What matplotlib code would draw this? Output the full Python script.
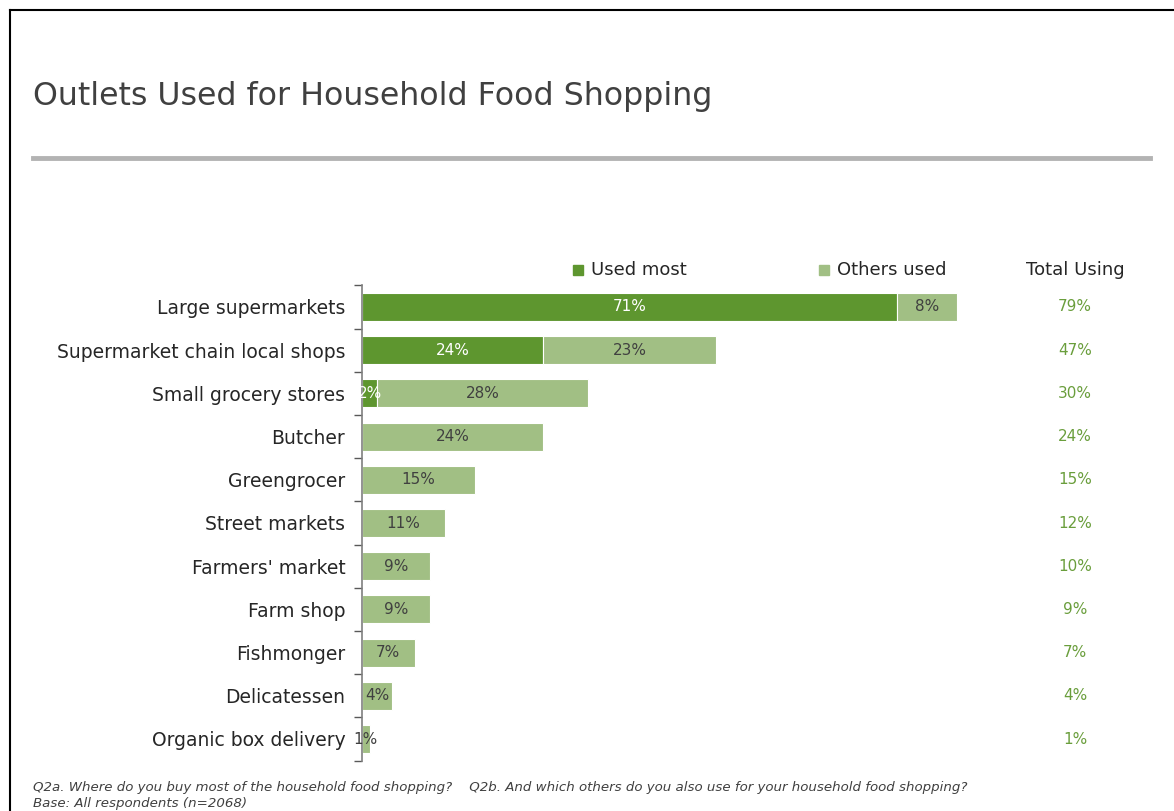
import numpy as np
import matplotlib
matplotlib.use('Agg')
import matplotlib.pyplot as plt
from matplotlib.lines import Line2D
from matplotlib.patches import Rectangle
import matplotlib.transforms as mtransforms

plt.rcParams['font.family'] = ['DejaVu Sans']

# 数据
outlets = ['Large supermarkets', 'Supermarket chain local shops', 'Small grocery stores',
           'Butcher', 'Greengrocer', 'Street markets', "Farmers' market", 'Farm shop',
           'Fishmonger', 'Delicatessen', 'Organic box delivery']
used_most = [71, 24, 2, 0, 0, 0, 0, 0, 0, 0, 0]
others_used = [8, 23, 28, 24, 15, 11, 9, 9, 7, 4, 1]
total_using = [79, 47, 30, 24, 15, 12, 10, 9, 7, 4, 1]

dark = '#5e962f'
light = '#a1bf84'
txt = '#404040'

W, H = 1174, 811
fig = plt.figure(figsize=(W / 100, H / 100), dpi=100)

# 坐标轴位置(像素换算)
ax_l, ax_r, ax_t, ax_b = 362, 1150, 285.4, 760.6
ax = fig.add_axes([ax_l / W, 1 - ax_b / H, (ax_r - ax_l) / W, (ax_b - ax_t) / H])
xmax = (ax_r - ax_l) / 7.535
ax.set_xlim(0, xmax)
ax.set_ylim(len(outlets) - 0.5, -0.5)

y = np.arange(len(outlets))
ax.barh(y, used_most, height=0.65, color=dark, edgecolor='white', linewidth=0.8)
ax.barh(y, others_used, left=used_most, height=0.65, color=light, edgecolor='white', linewidth=0.8)

for i in range(len(outlets)):
    if used_most[i] > 0:
        ax.text(used_most[i] / 2, i, '%d%%' % used_most[i], ha='center', va='center',
                color='white', fontsize=11)
    ax.text(used_most[i] + others_used[i] / 2, i, '%d%%' % others_used[i], ha='center',
            va='center', color=txt, fontsize=11)

# 右侧合计列
trans = mtransforms.blended_transform_factory(fig.transFigure, ax.transData)
for i, t in enumerate(total_using):
    ax.text(1075 / W, i, '%d%%' % t, transform=trans, ha='center', va='center',
            color='#6a9e3c', fontsize=11)

ax.set_yticks(y)
ax.set_yticklabels(outlets, fontsize=13.5, color='#262626')
ax.set_yticks(np.arange(len(outlets) + 1) - 0.5, minor=True)
ax.tick_params(axis='y', which='major', length=0, pad=12)
ax.tick_params(axis='y', which='minor', length=6, color='#595959', width=1)
ax.set_xticks([])
for s in ['top', 'right', 'bottom']:
    ax.spines[s].set_visible(False)
ax.spines['left'].set_color('#7f7f7f')
ax.spines['left'].set_linewidth(1.2)

# 图例
ly = 1 - 270 / H
fig.patches.append(Rectangle((573 / W, 1 - 275 / H), 10 / W, 10 / H, color=dark, transform=fig.transFigure))
fig.text(591 / W, ly, 'Used most', fontsize=13, color='#262626', va='center')
fig.patches.append(Rectangle((819 / W, 1 - 275 / H), 10 / W, 10 / H, color=light, transform=fig.transFigure))
fig.text(837 / W, ly, 'Others used', fontsize=13, color='#262626', va='center')
fig.text(1075 / W, ly, 'Total Using', fontsize=13, color='#262626', va='center', ha='center')

# 标题和分隔线
fig.text(33 / W, 1 - 97 / H, 'Outlets Used for Household Food Shopping', fontsize=22.8,
         color='#404040', va='center')
fig.add_artist(Line2D([33 / W, 1150 / W], [1 - 158 / H] * 2, color='#b3b3b3', linewidth=3.5))

# 外框
fig.add_artist(Line2D([10 / W, 1], [1 - 10 / H] * 2, color='black', linewidth=1.5))
fig.add_artist(Line2D([10 / W] * 2, [0, 1 - 10 / H], color='black', linewidth=1.5))

# 注释
fig.text(33 / W, 1 - 788 / H, 'Q2a. Where do you buy most of the household food shopping?    '
         'Q2b. And which others do you also use for your household food shopping?',
         fontsize=9.6, style='italic', color='#404040', va='center')
fig.text(33 / W, 1 - 804 / H, 'Base: All respondents (n=2068)', fontsize=9.6, style='italic',
         color='#404040', va='center')

fig.savefig('out.png', dpi=100)
